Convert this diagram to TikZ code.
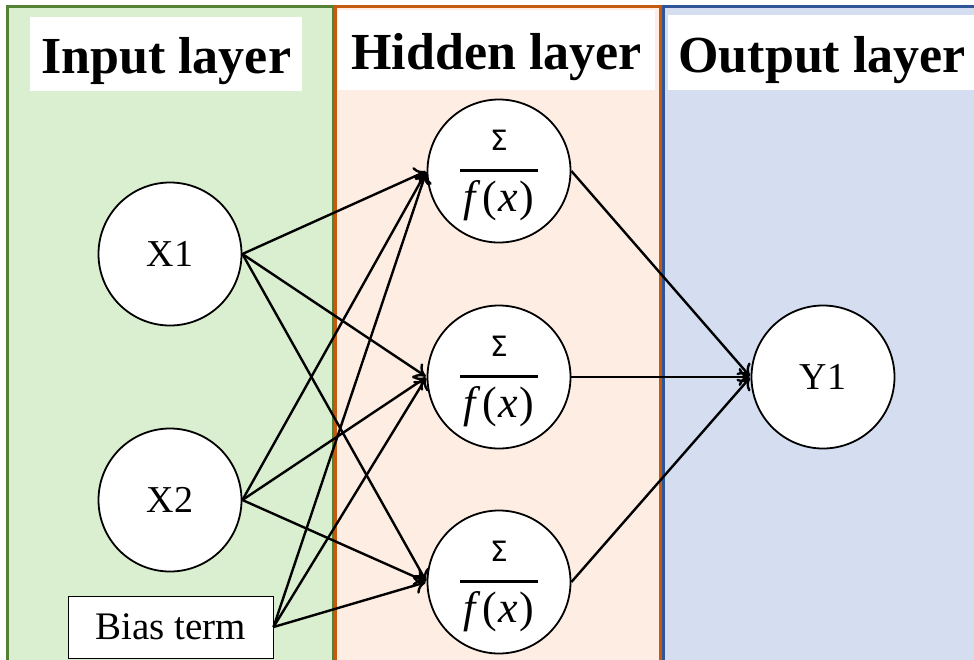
\documentclass[tikz,border=0pt]{standalone}
\usepackage{fontspec}
\setmainfont{Liberation Serif}
\newfontfamily\sigmafont{DejaVu Sans}
\usepackage{tikz}
\usetikzlibrary{arrows.meta,positioning}
\definecolor{inputfill}{RGB}{218,238,208}
\definecolor{inputline}{RGB}{84,130,53}
\definecolor{hiddenfill}{RGB}{253,237,226}
\definecolor{hiddenline}{RGB}{197,90,17}
\definecolor{outputfill}{RGB}{212,222,240}
\definecolor{outputline}{RGB}{47,85,151}

\begin{document}
\begin{tikzpicture}[x=1pt,y=-1pt,>={To[length=11pt,width=18pt]},shorten >=1pt,on grid,
		neuron/.style={circle,draw,line width=1.8pt,fill=white,minimum size=143pt,inner sep=0pt,font=\fontsize{38}{40}\selectfont},
		sumnode/.style={neuron,text height=92.5pt,text depth=11.5pt},
		title/.style={fill=white,anchor=north west,inner sep=0pt,text height=44pt,text depth=5pt,font=\fontsize{52}{54}\selectfont\bfseries}]
		\clip (0,0) rectangle (974,659);
		% layer panels
		\draw[draw=inputline,fill=inputfill,line width=3pt]   (7,6)   rectangle (333,680);
		\draw[draw=hiddenline,fill=hiddenfill,line width=3pt] (335,6) rectangle (660,680);
		\draw[draw=outputline,fill=outputfill,line width=3pt] (663,6) rectangle (995,680);
		\node[title,minimum width=272pt,minimum height=74pt] (tin)  at (30,17)  {Input layer};
		\node[title,minimum width=317pt,minimum height=80pt] (thid) at (338,10) {Hidden layer};
		\node[title,minimum width=308pt,minimum height=75pt] (tout) at (668,15) {Output layer};
		% neurons
		\node[neuron]          (X1)   at (170,254)         {X1};
		\node[neuron]          (X2)   [below =246pt of X1] {X2};
		\node[draw,fill=white,line width=1pt,minimum width=205pt,minimum height=62pt,inner sep=0pt,font=\fontsize{39}{40}\selectfont]
		                       (bias) at (170.5,627)       {Bias term};
		\node[sumnode]         (H1)   at (499,171)         {\vbox{\hbox to 78pt{\hss\fontsize{28}{28}\sigmafont Σ\hss}\kern18.5pt\hrule height 3pt\kern8.5pt
		                                                     \hbox to 78pt{\hss\fontsize{44}{44}\selectfont\itshape f\/\kern1.5pt\upshape(\kern1.5pt\itshape x\/\kern1.5pt\upshape)\hss}}};
		\node[sumnode]         (H2)   [below =206pt of H1] {\vbox{\hbox to 78pt{\hss\fontsize{28}{28}\sigmafont Σ\hss}\kern18.5pt\hrule height 3pt\kern8.5pt
		                                                     \hbox to 78pt{\hss\fontsize{44}{44}\selectfont\itshape f\/\kern1.5pt\upshape(\kern1.5pt\itshape x\/\kern1.5pt\upshape)\hss}}};
		\node[sumnode]         (H3)   [below =205pt of H2] {\vbox{\hbox to 78pt{\hss\fontsize{28}{28}\sigmafont Σ\hss}\kern18.5pt\hrule height 3pt\kern8.5pt
		                                                     \hbox to 78pt{\hss\fontsize{44}{44}\selectfont\itshape f\/\kern1.5pt\upshape(\kern1.5pt\itshape x\/\kern1.5pt\upshape)\hss}}};
		\node[neuron]          (Y1)   [right =324pt of H2] {Y1};
		\tikzset{link/.style={->,line width=2.4pt}}
		\path (X1.east)   edge [link] (H1.west)
			  (X1.east)   edge [link] (H2.west)
			  (X1.east)   edge [link] (H3.west)
			  (X2.east)   edge [link] (H1.west)
			  (X2.east)   edge [link] (H2.west)
			  (X2.east)   edge [link] (H3.west);
		\path (bias.east) edge [link] (H1.west)
			  (bias.east) edge [link] (H2.west)
			  (bias.east) edge [link] (H3.west);
		\path (H1.east)   edge [link] (Y1.west)
			  (H2.east)   edge [link] (Y1.west)
			  (H3.east)   edge [link] (Y1.west);
	\end{tikzpicture}
\end{document}
